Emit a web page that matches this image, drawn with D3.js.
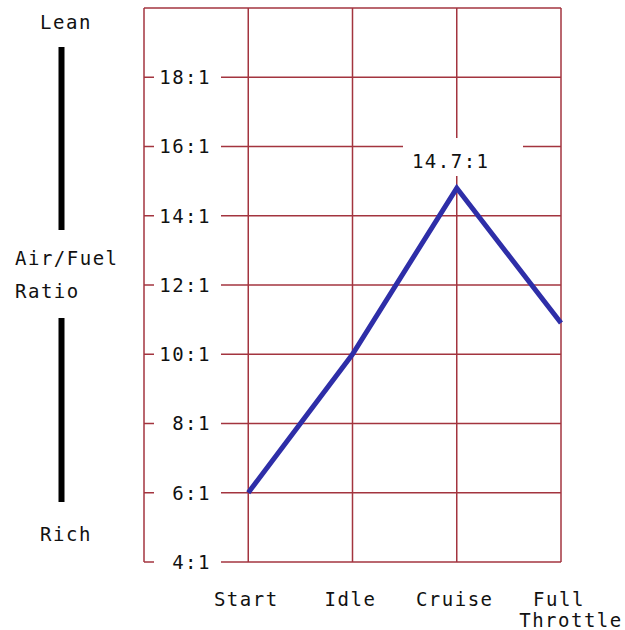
<!DOCTYPE html>
<html>
<head>
<meta charset="utf-8">
<script src="https://cdn.jsdelivr.net/npm/d3@7"></script>
<style>
	body { margin: 0; background: #fff; }
	text { font-family: "DejaVu Sans Mono", monospace; font-size: 19px; letter-spacing: 1.5px; fill: #111; }
</style>
</head>
<body>
<script>
//chart data
var stages = ["Start", "Idle", "Cruise", "Full Throttle"];
var ratios = [6, 10, 14.8, 10.9];
var yTicks = [4, 6, 8, 10, 12, 14, 16, 18];
var peakLabel = "14.7:1";

window.onload = function(){
	var w = 625, h = 630;
	var gridColor = "#a3343f";

	var svg = d3.select("body")
		.append("svg")
		.attr("width", w)
		.attr("height", h);

	//x scale: the left border sits one step before "Start"
	var x = d3.scaleLinear()
		.domain([-1, stages.length - 1])
		.range([144, 561]);

	//y scale from 4:1 up to 20:1 at the top border
	var y = d3.scaleLinear()
		.domain([4, 20])
		.range([562, 8]);

	//vertical grid lines
	svg.selectAll(".vgrid")
		.data(d3.range(-1, stages.length))
		.enter()
		.append("line")
		.attr("class", "vgrid")
		.attr("x1", function(d){ return x(d); })
		.attr("x2", function(d){ return x(d); })
		.attr("y1", y(20))
		.attr("y2", y(4))
		.style("stroke", gridColor)
		.style("stroke-width", 1.5);

	//horizontal grid lines (ticks plus the top border)
	svg.selectAll(".hgrid")
		.data(yTicks.concat([20]))
		.enter()
		.append("line")
		.attr("class", "hgrid")
		.attr("x1", x(-1))
		.attr("x2", x(stages.length - 1))
		.attr("y1", function(d){ return y(d); })
		.attr("y2", function(d){ return y(d); })
		.style("stroke", gridColor)
		.style("stroke-width", 1.5);

	//tick labels knock out the grid line behind them
	var tickG = svg.selectAll(".tick")
		.data(yTicks)
		.enter()
		.append("g")
		.attr("class", "tick")
		.attr("transform", function(d){ return "translate(0," + y(d) + ")"; });

	tickG.append("rect")
		.attr("x", 154)
		.attr("y", -11)
		.attr("width", 67)
		.attr("height", 22)
		.style("fill", "#fff");

	tickG.append("text")
		.attr("x", 211)
		.attr("dy", "0.36em")
		.attr("text-anchor", "end")
		.text(function(d){ return d + ":1"; });

	//peak label box and text
	var peakIndex = 2;
	svg.append("rect")
		.attr("x", 403)
		.attr("y", 138)
		.attr("width", 120)
		.attr("height", 38)
		.style("fill", "#fff");

	svg.append("text")
		.attr("x", x(peakIndex) - 6)
		.attr("y", 168)
		.attr("text-anchor", "middle")
		.text(peakLabel);

	//the air/fuel line
	var line = d3.line()
		.x(function(d, i){ return x(i); })
		.y(function(d){ return y(d); });

	svg.append("path")
		.datum(ratios)
		.attr("d", line)
		.style("fill", "none")
		.style("stroke", "#2e2ea8")
		.style("stroke-width", 5)
		.style("stroke-linejoin", "miter");

	//category labels under the chart
	var catLabels = svg.selectAll(".cat")
		.data(stages)
		.enter()
		.append("text")
		.attr("class", "cat")
		.attr("text-anchor", "middle")
		.attr("y", 606);

	catLabels.each(function(d, i){
		var words = d.split(" ");
		var el = d3.select(this);
		words.forEach(function(word, j){
			el.append("tspan")
				.attr("x", words.length > 1 && j > 0 ? x(i) + 10 : x(i) - 2)
				.attr("dy", j === 0 ? 0 : 21)
				.text(word);
		});
	});

	//left side label with black bars
	svg.append("text")
		.attr("x", 66)
		.attr("y", 29)
		.attr("text-anchor", "middle")
		.text("Lean");

	svg.append("text")
		.attr("x", 66)
		.attr("y", 541)
		.attr("text-anchor", "middle")
		.text("Rich");

	svg.append("text")
		.attr("x", 15)
		.attr("y", 265)
		.text("Air/Fuel");

	svg.append("text")
		.attr("x", 15)
		.attr("y", 298)
		.text("Ratio");

	svg.selectAll(".bar")
		.data([[47, 230], [318, 502]])
		.enter()
		.append("line")
		.attr("class", "bar")
		.attr("x1", 61.5)
		.attr("x2", 61.5)
		.attr("y1", function(d){ return d[0]; })
		.attr("y2", function(d){ return d[1]; })
		.style("stroke", "#000")
		.style("stroke-width", 6);
};
</script>
</body>
</html>
